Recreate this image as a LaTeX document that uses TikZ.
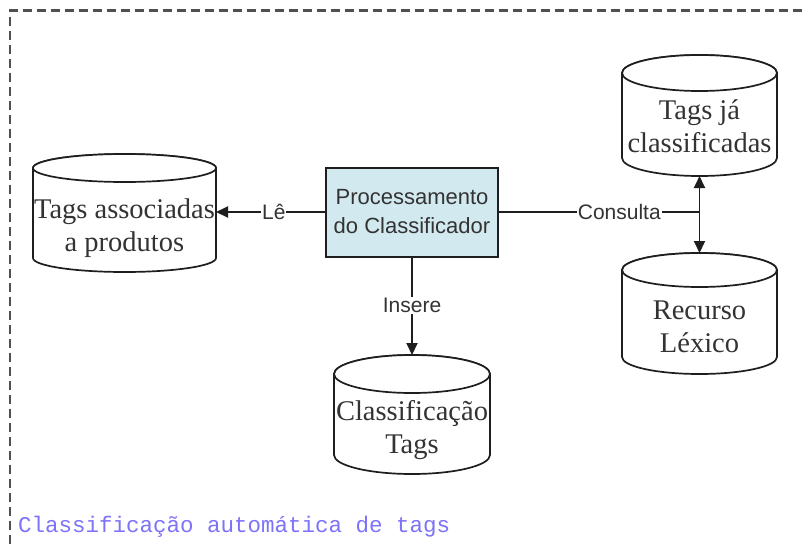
\documentclass[tikz,border=0pt]{standalone}
\usepackage{fontspec}
\setmainfont{Liberation Serif}
\setsansfont{Liberation Sans}
\setmonofont{Liberation Mono}
\usetikzlibrary{arrows.meta}
\definecolor{boxfill}{RGB}{210,233,240}
\definecolor{linegray}{RGB}{30,30,30}
\definecolor{framegray}{RGB}{80,80,80}
\definecolor{captionblue}{RGB}{125,115,250}
\tikzset{
  cylline/.style={draw=linegray, line width=1.7pt, fill=white},
  cyltext/.style={font=\fontsize{28.5}{33}\selectfont, text=black!80, align=center, inner sep=0pt},
  procbox/.style={draw=linegray, line width=2pt, fill=boxfill},
  proctext/.style={font=\sffamily\fontsize{22}{29}\selectfont, text=black!80, align=center, inner sep=0pt},
  conn/.style={draw=linegray, line width=1.9pt},
  arr/.style={conn, -{Triangle[length=12pt,width=11pt]}},
  lbl/.style={font=\sffamily\fontsize{21}{24}\selectfont, fill=white, inner sep=1pt, text=black!80},
  frame/.style={draw=framegray, line width=2.3pt, dash pattern=on 9pt off 5pt},
}
% #1 cx, #2 top-ellipse centre y, #3 bottom-ellipse centre y, #4 rx, #5 ry
\newcommand{\mycyl}[5]{%
  \path[cylline] (#1-#4,#2) -- (#1-#4,#3)
    arc[start angle=180,end angle=360,x radius=#4pt,y radius=#5pt] -- (#1+#4,#2)
    arc[start angle=0,end angle=180,x radius=#4pt,y radius=#5pt] -- cycle;
  \draw[cylline] (#1,#2) ellipse[x radius=#4pt,y radius=#5pt];
}
\begin{document}
\begin{tikzpicture}[x=1pt,y=1pt]
\useasboundingbox (0,0) rectangle (802,-544);
\path[fill=white] (0,0) rectangle (802,-544);
% frame
\draw[frame] (10,-600) -- (10,-10.5) -- (840,-10.5);
% cylinders
\mycyl{124.5}{-168}{-258}{91.5}{14}
\mycyl{699.5}{-73}{-158}{77.5}{18}
\mycyl{699.5}{-270}{-357}{77.5}{17}
\mycyl{412}{-374}{-455}{78}{19}
\node[cyltext] (tap) at (124.5,-228) {Tags associadas\\a produtos};
\node[cyltext] (tjc) at (699.5,-126) {Tags já\\classificadas};
\node[cyltext] (rl) at (699.5,-327) {Recurso\\Léxico};
\node[cyltext] (ct) at (412,-430) {Classificação\\Tags};
\coordinate (tapE) at (216,-212);
\coordinate (tjcS) at (699.5,-176);
\coordinate (rlN) at (699.5,-253);
\coordinate (ctN) at (412,-355);
% process box
\node[procbox, minimum width=172pt, minimum height=89pt, inner sep=0pt] (pc) at (412,-212.5) {};
\node[proctext] (pct) at (412,-212) {Processamento\\do Classificador};
\coordinate (junc) at (699.5,-212);
% connectors
\draw[arr] (pc.west |- tapE) -- node[lbl, pos=0.47] (le) {Lê} (tapE);
\draw[conn] (pc.east |- junc) -- node[lbl, pos=0.6] (cons) {Consulta} (junc);
\draw[arr] (junc) -- (tjcS);
\draw[arr] (junc) -- (rlN);
\draw[arr] (pc.south) -- node[lbl, pos=0.49] (ins) {Insere} (ctN);
% caption
\node[anchor=west, font=\ttfamily\fontsize{22.5}{24}\selectfont, text=captionblue, inner sep=0pt] (cap) at (18,-527) {Classificação automática de tags};
\end{tikzpicture}
\end{document}
